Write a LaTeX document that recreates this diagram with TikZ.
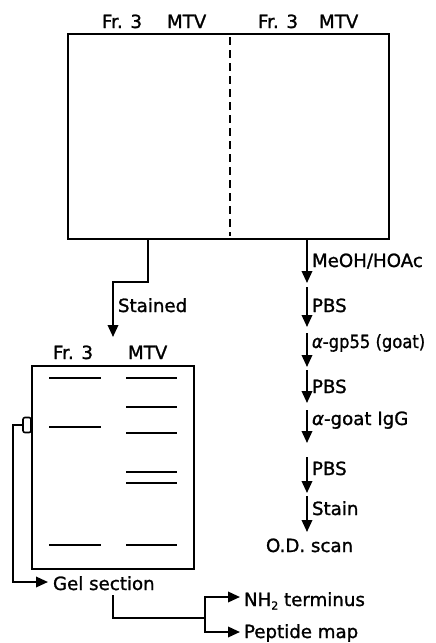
\documentclass[tikz,border=0pt]{standalone}
\usepackage{fontspec}
\setmainfont[FakeBold=1.2]{DejaVu Sans}
\usetikzlibrary{arrows.meta}
\newcommand{\subtwo}{\raisebox{-3.5pt}{\fontsize{11}{11}\selectfont 2}}
\begin{document}
\begin{tikzpicture}[x=1pt,y=-1pt, line width=2pt,
  lbl/.style={font=\fontsize{18.2}{21}\selectfont, inner sep=0pt, anchor=base west},
  arr/.style={-{Triangle[length=12pt,width=10.5pt]}},
  band/.style={line width=2.2pt},
  boxnode/.style={draw, inner sep=0pt, anchor=north west}]
\useasboundingbox (0,0) rectangle (436,643);

% top gel
\node[boxnode, minimum width=321pt, minimum height=205pt] (topbox) at (67,33) {};
\draw[dash pattern=on 8pt off 5pt] ([xshift=1.5pt,yshift=-4pt]topbox.north) -- ([xshift=1.5pt,yshift=4pt]topbox.south);
\node[lbl] (tf1) at (101,28) {Fr. 3};
\node[lbl] (tm1) at (166,28) {MTV};
\node[lbl] (tf2) at (257,28) {Fr. 3};
\node[lbl] (tm2) at (318,28) {MTV};

% left branch
\coordinate (ls) at (148,238);
\coordinate (lt) at (113,337);
\draw[arr] (ls) -- ++(0,44) -| (lt);
\node[lbl] (stained) at (117,312) {Stained};

% stained gel
\node[boxnode, minimum width=162pt, minimum height=203pt] (gel) at (31,365) {};
\node[lbl] (gf) at (52,359) {Fr. 3};
\node[lbl] (gm) at (127,359) {MTV};
\foreach \y in {378,427,545} \draw[band] (49,\y) -- (101,\y);
\foreach \y in {378,407,433,472,483,545} \draw[band] (126,\y) -- (177,\y);

% gel section bracket
\node[draw, rounded corners=2pt, minimum width=8pt, minimum height=15pt, inner sep=0pt, line width=1.6pt] (tab) at (27,425) {};
\node[lbl, inner xsep=4pt] (gelsec) at (48,590) {Gel section};
\draw[arr] (tab.west) -- (13,425) |- (gelsec.west |- 0,582);

\coordinate (g1) at (113,595);
\coordinate (br) at (205,618);
\node[lbl, inner xsep=3pt] (nh) at (240,606) {NH\subtwo\ terminus};
\node[lbl, inner xsep=3pt] (pep) at (240,638) {Peptide map};
\draw (g1) |- (br);
\draw[arr] (br) |- (nh.west |- 0,597);
\draw[arr] (br) |- (pep.west |- 0,632);

% right branch
\coordinate (r0) at (307,238);
\coordinate (r1) at (307,283);
\coordinate (r2a) at (307,287);
\coordinate (r2) at (307,327);
\coordinate (r3a) at (307,333);
\coordinate (r3) at (307,367);
\coordinate (r4a) at (307,370);
\coordinate (r4) at (307,403);
\coordinate (r5a) at (307,410);
\coordinate (r5) at (307,443);
\coordinate (r6a) at (307,457);
\coordinate (r6) at (307,493);
\coordinate (r7a) at (307,496);
\coordinate (r7) at (307,532);
\draw[arr] (r0) -- (r1);
\draw[arr] (r2a) -- (r2);
\draw[arr] (r3a) -- (r3);
\draw[arr] (r4a) -- (r4);
\draw[arr] (r5a) -- (r5);
\draw[arr] (r6a) -- (r6);
\draw[arr] (r7a) -- (r7);
\node[lbl] (meoh) at (311,267) {MeOH/HOAc};
\node[lbl] (pbs1) at (311,312) {PBS};
\node[lbl] (agp) at (311,348) {\scalebox{0.9}[1]{{\itshape α}-gp55 (goat)}};
\node[lbl] (pbs2) at (311,393) {PBS};
\node[lbl] (aig) at (311,425) {{\itshape α}-goat IgG};
\node[lbl] (pbs3) at (311,475) {PBS};
\node[lbl] (stain) at (311,515) {Stain};
\node[lbl] (od) at (265,552) {O.D. scan};
\end{tikzpicture}
\end{document}
